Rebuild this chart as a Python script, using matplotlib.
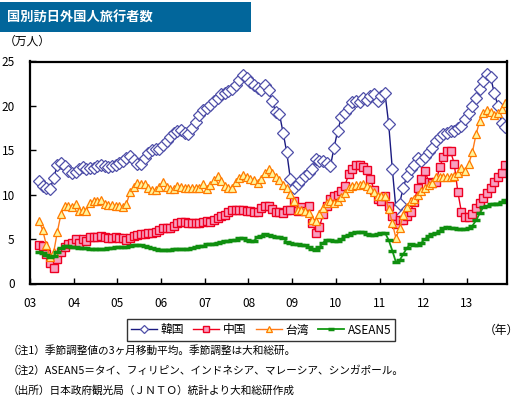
import numpy as np
import matplotlib.pyplot as plt
from matplotlib.patches import Rectangle

plt.rcParams['font.family'] = ['Noto Sans CJK JP', 'DejaVu Sans']

# 3-month moving average of seasonally adjusted visitors, Mar 2003 - Nov 2013 (10k persons)
korea = [
    11.5, 11.0, 10.7, 10.6, 11.9, 13.3, 13.6, 13.2, 12.7, 12.4,                    # 2003
    12.6, 12.9, 13.1, 12.9, 13.0, 13.0, 13.2, 13.3, 13.2, 13.1, 13.2, 13.3,        # 2004
    13.6, 13.8, 14.1, 14.4, 13.9, 13.5, 13.5, 14.1, 14.7, 15.0, 15.2, 15.2,        # 2005
    15.6, 16.0, 16.5, 17.0, 17.2, 17.3, 16.9, 16.8, 17.5, 18.2, 19.0, 19.5,        # 2006
    19.8, 20.1, 20.5, 20.9, 21.3, 21.5, 21.7, 21.9, 22.3, 22.9, 23.5, 23.1,        # 2007
    22.7, 22.4, 22.0, 21.8, 22.3, 21.8, 20.6, 19.3, 19.1, 17.0, 14.8, 11.8,        # 2008
    10.8, 11.2, 11.6, 12.1, 12.4, 12.9, 14.0, 13.8, 13.8, 13.6, 13.2, 15.3,        # 2009
    17.2, 18.7, 19.2, 19.8, 20.4, 20.5, 20.4, 20.9, 20.7, 21.1, 21.3, 20.6,        # 2010
    21.1, 21.4, 18.0, 12.9, 8.4, 9.0, 10.8, 12.1, 12.9, 13.4, 14.1, 13.8,          # 2011
    14.2, 14.8, 15.3, 16.1, 16.5, 16.8, 17.0, 17.2, 17.2, 17.5, 17.7, 18.5,        # 2012
    19.2, 20.0, 20.9, 21.9, 22.8, 23.6, 23.2, 21.5, 20.0, 18.1, 17.6,              # 2013
]
china = [
    4.3, 4.2, 3.3, 2.3, 1.8, 2.8, 3.6, 4.1, 4.4, 4.6,
    5.0, 4.6, 5.0, 4.8, 5.2, 5.2, 5.2, 5.3, 5.2, 5.1, 5.1, 5.2,
    5.1, 5.1, 4.9, 5.1, 5.3, 5.5, 5.6, 5.6, 5.7, 5.7, 5.8, 6.0,
    6.3, 6.2, 6.3, 6.5, 6.8, 6.9, 6.9, 6.8, 6.8, 6.8, 6.8, 6.9,
    7.0, 6.9, 7.1, 7.4, 7.6, 7.7, 8.0, 8.3, 8.3, 8.3, 8.3, 8.2,
    8.2, 8.1, 8.1, 8.5, 8.7, 8.7, 8.4, 8.0, 8.0, 7.9, 8.3, 8.3,
    9.3, 8.2, 8.6, 8.2, 8.7, 6.8, 5.7, 6.4, 7.8, 8.7, 9.5, 9.9,
    10.0, 10.4, 11.0, 12.3, 12.9, 13.3, 13.3, 13.1, 12.8, 11.8, 10.5, 9.5,
    9.3, 9.8, 8.7, 7.6, 6.7, 7.1, 7.1, 7.6, 8.1, 9.2, 10.8, 11.8,
    12.7, 11.4, 11.3, 11.4, 13.1, 14.2, 14.9, 14.9, 13.5, 10.3, 8.0, 7.5,
    7.5, 7.8, 8.5, 9.1, 9.6, 10.2, 10.8, 11.4, 12.0, 12.4, 13.3,
]
taiwan = [
    7.0, 6.0, 4.3, 3.0, 3.5, 5.8, 7.8, 8.7, 8.7, 8.6,
    8.9, 8.2, 8.3, 8.2, 9.1, 9.3, 9.3, 9.4, 9.0, 8.8, 8.8, 8.7,
    8.7, 8.6, 9.0, 10.3, 10.9, 11.3, 11.2, 11.2, 10.8, 10.5, 10.5, 10.9,
    11.4, 10.9, 10.6, 10.6, 11.0, 10.9, 10.8, 10.7, 10.8, 10.8, 10.8, 11.2,
    10.6, 11.1, 11.6, 12.1, 11.5, 11.0, 10.7, 10.8, 11.4, 11.9, 12.2, 12.0,
    11.8, 11.6, 11.3, 11.8, 12.4, 12.9, 12.5, 12.0, 11.6, 11.1, 10.7, 10.1,
    9.3, 8.3, 8.3, 8.2, 7.9, 7.2, 7.0, 7.8, 8.5, 9.1, 9.3, 9.1,
    9.3, 9.7, 10.2, 10.7, 11.0, 11.1, 11.1, 11.2, 11.0, 10.6, 10.3, 9.9,
    9.8, 9.8, 8.4, 6.8, 5.1, 6.2, 7.7, 8.6, 9.3, 9.5, 10.0, 10.4,
    10.8, 11.1, 11.3, 12.0, 12.0, 12.0, 12.0, 12.0, 12.1, 12.5, 13.0, 12.7,
    13.5, 14.8, 16.8, 18.3, 19.2, 19.5, 19.3, 19.0, 19.2, 19.7, 20.3,
]
asean5 = [
    3.5, 3.4, 3.2, 3.0, 3.1, 3.6, 4.0, 4.2, 4.2, 4.1,
    4.1, 4.0, 4.0, 4.0, 3.9, 3.9, 3.9, 3.9, 3.9, 4.0, 4.0, 4.1,
    4.1, 4.1, 4.1, 4.2, 4.3, 4.3, 4.3, 4.2, 4.1, 4.0, 3.9, 3.8,
    3.8, 3.8, 3.8, 3.9, 3.9, 3.9, 3.9, 3.9, 4.0, 4.1, 4.2, 4.2,
    4.4, 4.4, 4.5, 4.6, 4.7, 4.8, 4.8, 4.9, 4.9, 5.1, 5.1, 4.9,
    4.8, 4.8, 5.2, 5.4, 5.6, 5.5, 5.3, 5.2, 5.2, 5.1, 4.7, 4.6,
    4.4, 4.4, 4.3, 4.3, 4.1, 3.9, 3.8, 4.1, 4.6, 4.9, 4.9, 4.8,
    4.8, 5.0, 5.3, 5.5, 5.7, 5.8, 5.8, 5.8, 5.6, 5.5, 5.5, 5.6,
    5.7, 5.7, 4.9, 3.7, 2.4, 2.6, 3.3, 4.0, 4.4, 4.3, 4.3, 4.6,
    5.0, 5.3, 5.6, 5.7, 5.9, 6.2, 6.4, 6.3, 6.2, 6.1, 6.1, 6.1,
    6.2, 6.5, 7.1, 7.9, 8.6, 8.7, 8.9, 9.0, 9.0, 9.2, 9.4,
]

year_labels = ['03', '04', '05', '06', '07', '08', '09', '10', '11', '12', '13']
first_month = 2     # March 2003, months counted from January 2003
n_months = 131      # Jan 2003 .. Nov 2013

notes = [
    '（注1）季節調整値の3ヶ月移動平均。季節調整は大和総研。',
    '（注2）ASEAN5＝タイ、フィリピン、インドネシア、マレーシア、シンガポール。',
    '（出所）日本政府観光局（ＪＮＴＯ）統計より大和総研作成',
]

W, H = 518, 399
fig = plt.figure(figsize=(W / 100, H / 100), dpi=100)

# title bar
fig.patches.append(Rectangle((0, 1 - 32 / H), 251 / W, 30 / H, transform=fig.transFigure,
                             facecolor='#02669B', edgecolor='none'))
fig.text(7 / W, 1 - 17.5 / H, '国別訪日外国人旅行者数', color='white', fontsize=9.5,
         fontweight='bold', va='center', ha='left')
fig.text(4 / W, 1 - 41 / H, '（万人）', fontsize=8.5, va='center', ha='left')

ax = fig.add_axes([30 / W, 1 - 283.5 / H, 477 / W, 222 / H])
t = first_month + np.arange(len(korea)) + 0.5

ax.plot(t, korea, color='#1A1A80', lw=1, marker='D', ms=5.8, mfc='white', mec='#4E4EA8',
        mew=0.9, label='韓国')
ax.plot(t, china, color='#F0001E', lw=1, marker='s', ms=5.2, mfc='#F7A0C0', mec='#EE0022',
        mew=1, label='中国')
ax.plot(t, taiwan, color='#FF7A1A', lw=1, marker='^', ms=6, mfc='#FFF59A', mec='#FF7A00',
        mew=0.9, label='台湾')
ax.plot(t, asean5, color='#139A13', lw=1.3, marker='_', ms=6, mec='#0F8F0F', mew=2.5,
        label='ASEAN5')

ax.set_xlim(0, n_months)
ax.set_ylim(0, 25)
ax.set_yticks(range(0, 26, 5))
ax.set_xticks(np.arange(len(year_labels)) * 12)
ax.set_xticklabels(year_labels)
ax.tick_params(axis='both', direction='in', length=4, width=1, labelsize=8.5)
ax.tick_params(axis='y', pad=11)
ax.tick_params(axis='x', pad=10)
for s in ax.spines.values():
    s.set_linewidth(1.6)

leg = fig.legend(loc='center', bbox_to_anchor=(261 / W, 1 - 330 / H), ncol=4,
                 fontsize=8.5, frameon=True, fancybox=False, edgecolor='black',
                 handlelength=2.2, handletextpad=0.3, columnspacing=0.8,
                 markerscale=0.7, borderpad=0.35)
leg.get_frame().set_linewidth(1)

fig.text(501 / W, 1 - 330 / H, '（年）', fontsize=8.5, va='center', ha='center')

for i, note in enumerate(notes):
    fig.text(8 / W, 1 - (350 + 20 * i) / H, note, fontsize=7.7, va='center', ha='left')

fig.savefig('out.png', dpi=100)
